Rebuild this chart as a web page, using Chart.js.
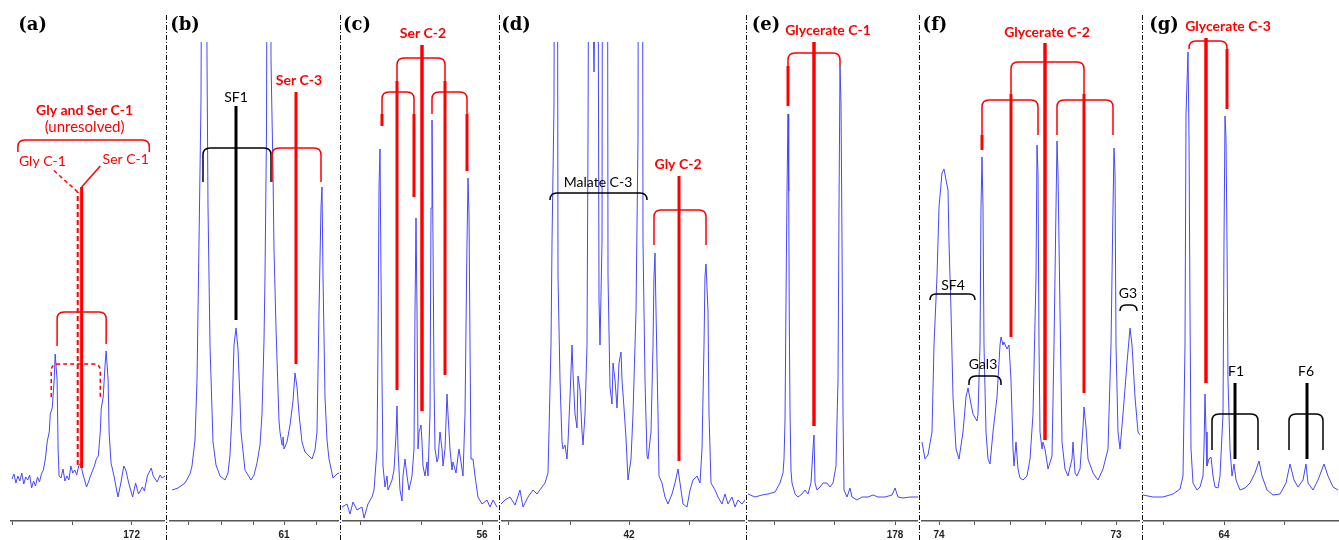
<!DOCTYPE html>
<html>
<head>
<meta charset="utf-8">
<script src="https://cdn.jsdelivr.net/npm/chart.js@4.4.1/dist/chart.umd.min.js"></script>
<style>
  body { margin: 0; background: #fff; }
  #wrap { position: relative; width: 1339px; height: 540px; overflow: hidden; background: #fff; }
  .panel { position: absolute; top: 0; height: 540px; }
  .sep { position: absolute; top: 15px; width: 1px; height: 525px;
         background: repeating-linear-gradient(to bottom, #111 0 5px, transparent 5px 7px, #111 7px 8px, transparent 8px 10px); }
</style>
</head>
<body>
<div id="wrap"></div>
<script>
// spectra: [point, intensity], point = channel from the panel's left edge
const specA = [[1,42],[3,47],[5,38],[7,45],[9,40],[11,48],[13,37],[15,44],[17,41],[19,46],[21,33],[23,40],[25,35],[27,44],[29,39],[31,47],[33,51],[35,62],[37,80],[39,89],[40,107],[42,113],[44,141],[45,167],[47,141],[48,72],[49,45],[51,43],[53,52],[55,40],[57,45],[59,41],[61,55],[63,48],[65,51],[67,46],[69,55],[71,58],[73,48],[75,41],[77,34],[79,39],[81,45],[83,50],[85,55],[87,62],[89,65],[91,89],[92,113],[94,124],[96,158],[97,170],[99,141],[100,89],[102,58],[105,45],[109,24],[112,38],[115,55],[117,51],[120,38],[124,24],[127,38],[130,27],[134,34],[136,30],[139,45],[143,53],[145,45],[149,39],[152,46],[154,43],[157,45]];
const specB = [[3,31],[9,33],[16,38],[21,47],[23,55],[26,81],[28,141],[30,279],[32,421],[35,1221],[38,461],[39,314],[41,176],[44,79],[47,56],[51,45],[56,41],[59,48],[61,66],[63,107],[65,176],[67,193],[69,172],[71,121],[72,89],[76,51],[82,41],[85,46],[88,58],[91,76],[93,107],[95,181],[96,245],[97.5,391],[99.5,1100],[102,461],[104,348],[105,271],[107,193],[110,100],[111,89],[113,76],[114,84],[115,72],[118,79],[121,96],[124,120],[126,148],[128,134],[130,107],[133,79],[136,69],[138,67],[143,62],[146,71],[148,89],[150,210],[152,314],[153,334],[154,245],[156,124],[158,81],[160,62],[164,43],[168,47],[170,48]];
const specC = [[0,14],[5,17],[8,7],[11,19],[15,11],[20,14],[22,3],[26,17],[30,24],[32,31],[35,72],[36,176],[37,334],[38,372],[39,245],[40,141],[41,55],[43,34],[45,45],[46,31],[50,41],[52,51],[54,86],[55,115],[56,72],[58,31],[60,20],[61,45],[63,62],[65,45],[67,31],[70,45],[72,72],[73,210],[74,303],[75,210],[76,72],[77,89],[79,96],[80,79],[81,55],[83,45],[85,59],[86,45],[88,107],[89,313],[90,401],[91,279],[92,141],[93,72],[95,59],[96,62],[98,89],[100,72],[101,55],[103,72],[105,127],[106,107],[108,72],[110,51],[111,59],[114,48],[116,65],[117,72],[119,59],[121,45],[123,107],[125,279],[126,343],[127,307],[128,176],[129,62],[131,62],[133,45],[136,24],[140,17],[145,21],[148,14],[151,21],[155,14]];
const specD = [[0,17],[4,21],[9,24],[14,16],[19,31],[22,14],[27,24],[32,31],[36,27],[41,34],[44,38],[47,48],[48,89],[50,176],[51,279],[53,417],[54,900],[56,900],[57,245],[59,141],[61,79],[62,72],[64,76],[66,62],[67,79],[69,124],[71,176],[72,148],[74,107],[76,93],[77,145],[79,131],[81,89],[82,76],[84,107],[86,176],[87,382],[89,1000],[92,521],[93,449],[94,521],[96,1000],[98,221],[99,176],[101,279],[102,1000],[106,1000],[107,245],[109,134],[111,117],[112,158],[114,141],[116,113],[118,158],[120,169],[121,141],[123,113],[125,83],[127,41],[130,62],[132,107],[135,210],[137,382],[138,1000],[141,1000],[142,279],[144,141],[146,65],[147,62],[150,89],[152,176],[153,245],[154,268],[155,210],[157,107],[158,45],[161,38],[164,24],[167,17],[171,27],[174,38],[177,52],[179,38],[182,17],[186,14],[189,31],[192,41],[196,45],[199,38],[201,72],[203,176],[204,245],[205,257],[207,210],[208,107],[210,38],[214,31],[217,24],[221,17],[224,27],[227,17],[231,24],[234,14],[237,21],[241,17],[244,21]];
const specE = [[0,27],[7,24],[14,26],[20,27],[27,29],[32,38],[35,48],[36,62],[37,100],[38,220],[39,330],[40,407],[40.7,330],[41.3,200],[42,110],[43,50],[44,38],[47,27],[50,24],[54,27],[57,31],[60,27],[63,38],[65,72],[66,86],[67,38],[69,31],[72,34],[75,38],[79,38],[82,34],[85,38],[88,55],[89,100],[90,141],[91,314],[92,455],[93,417],[94,279],[95,107],[96,31],[99,24],[102,33],[104,24],[109,21],[114,24],[120,24],[125,26],[130,24],[137,24],[144,26],[147,33],[150,24],[155,23],[162,24],[170,24]];
const specF = [[1,79],[4,62],[7,66],[11,89],[13,176],[16,245],[18,314],[21,348],[23,352],[25,341],[27,331],[28,279],[30,210],[32,124],[35,72],[38,62],[42,89],[45,124],[47,133],[50,117],[52,107],[56,100],[57,107],[59,176],[60,314],[61,364],[62,314],[63,176],[65,89],[67,62],[69,57],[72,89],[76,124],[79,176],[80,184],[82,176],[83,179],[86,172],[88,176],[90,141],[92,72],[93,55],[95,79],[97,52],[99,43],[102,41],[106,45],[109,62],[112,107],[115,245],[116,376],[117,348],[118,176],[119,89],[121,72],[122,79],[124,72],[127,52],[131,65],[133,176],[135,314],[136,380],[137,348],[139,210],[141,79],[144,52],[147,45],[151,62],[152,79],[154,48],[156,45],[159,52],[162,94],[163,114],[165,94],[167,62],[172,48],[177,41],[182,52],[187,72],[190,176],[192,314],[193,373],[194,348],[195,176],[197,89],[199,72],[202,107],[206,158],[209,193],[211,176],[214,124],[217,89],[219,86]];
const specG = [[0,26],[10,24],[20,24],[30,27],[37,32],[40,45],[42,176],[43,407],[45,469],[46,383],[47,210],[48,72],[50,38],[54,31],[57,34],[60,45],[61,72],[62,127],[63,89],[64,55],[66,62],[68,64],[70,45],[72,34],[75,33],[77,45],[80,107],[81,279],[82,405],[83,383],[84,279],[85,141],[87,72],[89,45],[91,57],[93,41],[97,31],[102,33],[107,38],[112,48],[116,60],[119,45],[124,31],[130,26],[137,27],[143,38],[147,57],[151,41],[155,34],[160,41],[163,57],[165,38],[170,31],[175,41],[181,57],[185,45],[190,34],[195,31]];

// axis ticks (channel) and their ppm labels
const ticksA = [1, 63, 123],              labelsA = ['', '', '172'];
const ticksB = [19, 52, 84, 115, 147],    labelsB = ['', '', '', '61', ''];
const ticksC = [18, 79, 140],             labelsC = ['', '', '56'];
const ticksD = [7, 69, 128, 188],         labelsD = ['', '', '42', ''];
const ticksE = [26, 86, 147],             labelsE = ['', '', '178'];
const ticksF = [18, 53, 89, 124, 160, 195], labelsF = ['74', '', '', '', '', '73'];
const ticksG = [20, 81, 141],             labelsG = ['', '64', ''];

const RED = '#ff0000';
const BLACK = '#000000';
const BLUE = '#4646ff';
const TOP = 42;         // px above the plot area
const AXIS_H = 19;      // px reserved for the ppm axis
const SEPARATORS = [166, 340, 499, 746, 919, 1142];

const FONT_PANEL = 'bold 18px "DejaVu Serif"';
const FONT_BOLD = 'bold 14px Lato';
const FONT_TEXT = '14px Lato';

// annotation layers: lines [x1, y1, x2, y2, colour, width, dash], brackets, texts
const panels = [
  { left: 8, width: 157, spec: specA, ticks: ticksA, labels: labelsA,
    lines: [
      [72, 53, 72, 334, RED, 3], [68, 56, 68, 329, RED, 2, [5, 3]],
      [72, 334, 91, 355, RED, 1.5], [68, 329, 42, 352, RED, 1.5, [4, 3]]
    ],
    brackets: [
      { x1: 7, x2: 141, top: 381, l: 369, r: 369, color: RED },
      { x1: 47, x2: 97, top: 209, l: 175, r: 177, color: RED },
      { x1: 41, x2: 91, top: 157, l: 124, r: 122, color: RED, dash: [4, 3] }
    ],
    texts: [
      [22, 496, '(a)', BLACK, FONT_PANEL], [75, 411, 'Gly and Ser C-1', RED, FONT_BOLD],
      [75, 394, '(unresolved)', RED, '15px Lato'], [32, 360, 'Gly C-1', RED, FONT_TEXT],
      [117, 362, 'Ser C-1', RED, FONT_TEXT]
    ] },
  { left: 169, width: 170, spec: specB, ticks: ticksB, labels: labelsB,
    lines: [[67, 201, 67, 415, BLACK, 3], [127, 157, 127, 429, RED, 3]],
    brackets: [
      { x1: 34, x2: 102, top: 373, l: 339, r: 339, color: BLACK },
      { x1: 103, x2: 152, top: 373, l: 339, r: 339, color: RED }
    ],
    texts: [[16, 496, '(b)', BLACK, FONT_PANEL], [67, 424, 'SF1', BLACK, FONT_TEXT], [130, 441, 'Ser C-3', RED, FONT_BOLD]] },
  { left: 342, width: 156, spec: specC, ticks: ticksC, labels: labelsC,
    lines: [
      [80, 110, 80, 476, RED, 3.5], [55, 131, 55, 440, RED, 3], [103, 146, 103, 440, RED, 3],
      [40, 395, 40, 407, RED, 3], [72, 324, 72, 407, RED, 3], [125, 350, 125, 407, RED, 3]
    ],
    brackets: [
      { x1: 55, x2: 103, top: 463, l: 440, r: 440, color: RED },
      { x1: 40, x2: 72, top: 429, l: 407, r: 407, color: RED },
      { x1: 90, x2: 125, top: 429, l: 407, r: 407, color: RED }
    ],
    texts: [[15, 496, '(c)', BLACK, FONT_PANEL], [81, 488, 'Ser C-2', RED, FONT_BOLD]] },
  { left: 501, width: 244, spec: specD, ticks: ticksD, labels: labelsD,
    lines: [[178, 60, 178, 345, RED, 3]],
    brackets: [
      { x1: 49, x2: 146, top: 328, l: 321, r: 321, color: BLACK },
      { x1: 153, x2: 205, top: 311, l: 276, r: 276, color: RED }
    ],
    texts: [[15, 496, '(d)', BLACK, FONT_PANEL], [97, 339, 'Malate C-3', BLACK, FONT_TEXT], [177, 357, 'Gly C-2', RED, FONT_BOLD]] },
  { left: 748, width: 170, spec: specE, ticks: ticksE, labels: labelsE,
    lines: [[66, 95, 66, 479, RED, 3.5], [40, 415, 40, 455, RED, 3]],
    brackets: [{ x1: 40, x2: 92, top: 468, l: 455, r: 455, color: RED }],
    texts: [[18, 496, '(e)', BLACK, FONT_PANEL], [80, 491, 'Glycerate C-1', RED, FONT_BOLD]] },
  { left: 921, width: 219, spec: specF, ticks: ticksF, labels: labelsF,
    lines: [
      [124, 81, 124, 478, RED, 3.5], [90, 184, 90, 427, RED, 3], [163, 128, 163, 427, RED, 3],
      [61, 371, 61, 386, RED, 3]
    ],
    brackets: [
      { x1: 90, x2: 163, top: 459, l: 427, r: 427, color: RED },
      { x1: 61, x2: 117, top: 421, l: 386, r: 386, color: RED },
      { x1: 136, x2: 192, top: 421, l: 386, r: 386, color: RED },
      { x1: 9, x2: 54, top: 227, l: 221, r: 221, color: BLACK },
      { x1: 48, x2: 80, top: 145, l: 136, r: 136, color: BLACK },
      { x1: 199, x2: 216, top: 216, l: 210, r: 210, color: BLACK }
    ],
    texts: [
      [14, 496, '(f)', BLACK, FONT_PANEL], [126, 489, 'Glycerate C-2', RED, FONT_BOLD],
      [32, 236, 'SF4', BLACK, FONT_TEXT], [62, 157, 'Gal3', BLACK, FONT_TEXT], [207, 228, 'G3', BLACK, FONT_TEXT]
    ] },
  { left: 1143, width: 196, spec: specG, ticks: ticksG, labels: labelsG,
    lines: [
      [63, 138, 63, 483, RED, 3.5], [84, 412, 84, 472, RED, 3],
      [92, 62, 92, 138, BLACK, 3], [164, 62, 164, 138, BLACK, 3]
    ],
    brackets: [
      { x1: 46, x2: 84, top: 480, l: 472, r: 472, color: RED },
      { x1: 69, x2: 115, top: 107, l: 71, r: 71, color: BLACK },
      { x1: 146, x2: 180, top: 107, l: 71, r: 71, color: BLACK }
    ],
    texts: [[21, 496, '(g)', BLACK, FONT_PANEL], [85, 495, 'Glycerate C-3', RED, FONT_BOLD], [93, 150, 'F1', BLACK, FONT_TEXT], [163, 150, 'F6', BLACK, FONT_TEXT]] }
];

function notesPlugin(panel) {
  return {
    id: 'notes',
    afterDatasetsDraw(chart) {
      const { ctx } = chart;
      const px = (v) => chart.scales.x.getPixelForValue(v);
      const py = (v) => chart.scales.y.getPixelForValue(v);
      ctx.save();
      ctx.lineCap = 'butt';

      panel.brackets.forEach((b) => {
        const x1 = px(b.x1), x2 = px(b.x2), top = py(b.top);
        const yl = py(b.l), yr = py(b.r);
        const rad = Math.min(7, yl - top, yr - top, (x2 - x1) / 2);
        ctx.beginPath();
        ctx.strokeStyle = b.color;
        ctx.lineWidth = 1.5;
        ctx.setLineDash(b.dash || []);
        ctx.moveTo(x1, yl);
        ctx.lineTo(x1, top + rad);
        ctx.quadraticCurveTo(x1, top, x1 + rad, top);
        ctx.lineTo(x2 - rad, top);
        ctx.quadraticCurveTo(x2, top, x2, top + rad);
        ctx.lineTo(x2, yr);
        ctx.stroke();
      });

      panel.lines.forEach(([x1, y1, x2, y2, color, width, dash]) => {
        ctx.beginPath();
        ctx.strokeStyle = color;
        ctx.lineWidth = width;
        ctx.setLineDash(dash || []);
        ctx.moveTo(px(x1), py(y1));
        ctx.lineTo(px(x2), py(y2));
        ctx.stroke();
      });

      ctx.setLineDash([]);
      ctx.textAlign = 'center';
      ctx.textBaseline = 'middle';
      panel.texts.forEach(([x, y, text, color, font]) => {
        ctx.fillStyle = color;
        ctx.font = font;
        ctx.fillText(text, px(x), py(y));
      });
      ctx.restore();
    }
  };
}

function buildPanel(panel) {
  const box = document.createElement('div');
  box.className = 'panel';
  box.style.left = panel.left + 'px';
  box.style.width = panel.width + 'px';
  const canvas = document.createElement('canvas');
  canvas.width = panel.width;
  canvas.height = 540;
  box.appendChild(canvas);
  document.getElementById('wrap').appendChild(box);

  return new Chart(canvas, {
    type: 'line',
    data: {
      datasets: [{
        data: panel.spec.map(([x, y]) => ({ x, y })),
        borderColor: BLUE,
        borderWidth: 1,
        pointRadius: 0,
        tension: 0
      }]
    },
    options: {
      responsive: false,
      animation: false,
      events: [],
      layout: { padding: { top: TOP, left: 0, right: 0, bottom: 0 } },
      plugins: { legend: { display: false }, tooltip: { enabled: false } },
      scales: {
        x: {
          type: 'linear',
          min: 0,
          max: panel.width,
          afterBuildTicks: (axis) => { axis.ticks = panel.ticks.map((value) => ({ value })); },
          afterFit: (axis) => { axis.height = AXIS_H; },
          ticks: {
            autoSkip: false,
            maxRotation: 0,
            padding: 4,
            color: '#222',
            font: { family: 'Liberation Sans', size: 10, weight: 'bold' },
            callback: (value, index) => panel.labels[index]
          },
          grid: { drawOnChartArea: false, drawTicks: true, tickLength: 4, color: '#555', lineWidth: 1 },
          border: { display: true, color: '#555', width: 1.5 }
        },
        y: { display: false, min: 0, max: 540 - TOP - AXIS_H }
      }
    },
    plugins: [notesPlugin(panel)]
  });
}

panels.forEach(buildPanel);

SEPARATORS.forEach((x) => {
  const sep = document.createElement('div');
  sep.className = 'sep';
  sep.style.left = x + 'px';
  document.getElementById('wrap').appendChild(sep);
});
</script>
</body>
</html>
